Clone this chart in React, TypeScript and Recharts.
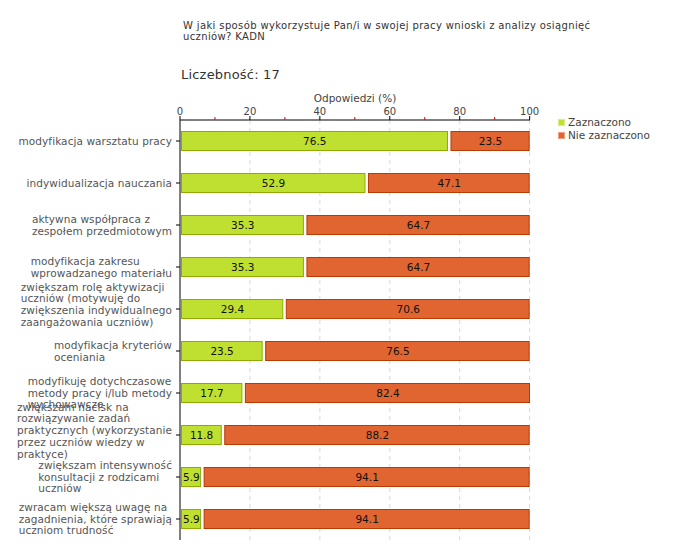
import React from 'react';
import { BarChart, Bar, XAxis, YAxis, CartesianGrid, LabelList } from 'recharts';

const categoryLines: string[][] = [
  ['modyfikacja warsztatu pracy'],
  ['indywidualizacja nauczania'],
  ['aktywna współpraca z', 'zespołem przedmiotowym'],
  ['modyfikacja zakresu', 'wprowadzanego materiału'],
  ['zwiększam rolę aktywizacji', 'uczniów (motywuję do', 'zwiększenia indywidualnego', 'zaangażowania uczniów)'],
  ['modyfikacja kryteriów', 'oceniania'],
  ['modyfikuję dotychczasowe', 'metody pracy i/lub metody', 'wychowawcze'],
  ['zwiększam nacisk na', 'rozwiązywanie zadań', 'praktycznych (wykorzystanie', 'przez uczniów wiedzy w', 'praktyce)'],
  ['zwiększam intensywność', 'konsultacji z rodzicami', 'uczniów'],
  ['zwracam większą uwagę na', 'zagadnienia, które sprawiają', 'uczniom trudność'],
];
const zaznaczono = [76.5, 52.9, 35.3, 35.3, 29.4, 23.5, 17.7, 11.8, 5.9, 5.9];
const nieZaznaczono = [23.5, 47.1, 64.7, 64.7, 70.6, 76.5, 82.4, 88.2, 94.1, 94.1];
const xTicks = [0, 10, 20, 30, 40, 50, 60, 70, 80, 90, 100];
const gridValues = [20, 40, 60, 80, 100];
const seriesNames = ['Zaznaczono', 'Nie zaznaczono'];

const data = categoryLines.map((lines, i) => ({
  name: lines.join(' '),
  lines,
  z: zaznaczono[i],
  n: nieZaznaczono[i],
}));

const FONT = "'DejaVu Sans', Verdana, sans-serif";
const GREEN = '#bfe030';
const GREEN_STROKE = '#8cad00';
const ORANGE = '#e06530';
const ORANGE_STROKE = '#bb3a00';

let measureCtx: CanvasRenderingContext2D | null = null;
function measure(text: string, size: number): number {
  if (!measureCtx) {
    const c = document.createElement('canvas');
    measureCtx = c.getContext('2d');
  }
  if (!measureCtx) return text.length * size * 0.55;
  measureCtx.font = `${size}px ${FONT}`;
  return measureCtx.measureText(text).width + text.length * 0.08;
}

const YTick = (props: any) => {
  const { x, y, payload, index } = props;
  const lines: string[] = data[index]?.lines ?? [String(payload.value)];
  const size = 10.5;
  const lh = 11.7;
  const maxW = Math.max(...lines.map((l) => measure(l, size)));
  const left = x - maxW;
  const shift = lines.length >= 4 ? -4.5 : 0;
  const startY = y - ((lines.length - 1) * lh) / 2 + shift;
  return (
    <g>
      {lines.map((l, i) => (
        <text
          key={i}
          x={left}
          y={startY + i * lh}
          dy="0.35em"
          textAnchor="start"
          fontFamily={FONT}
          fontSize={size}
          letterSpacing={0.08}
          fill="#555"
        >
          {l}
        </text>
      ))}
    </g>
  );
};

const XTick = (props: any) => {
  const { x, y, payload } = props;
  const axisY = y + 6;
  const major = payload.value % 20 === 0;
  return (
    <g>
      {major ? (
        <>
          <line x1={x} x2={x} y1={axisY} y2={axisY - 4} stroke="#000" strokeWidth={1} />
          <text x={x} y={axisY - 5} textAnchor="middle" fontFamily={FONT} fontSize={10} fill="#444">
            {payload.value}
          </text>
        </>
      ) : (
        <line x1={x} x2={x} y1={axisY} y2={axisY - 3} stroke="#e00000" strokeWidth={1} />
      )}
    </g>
  );
};

const GreenShape = (props: any) => {
  const { x, y, width, height } = props;
  return (
    <rect
      x={x + 1.5}
      y={y + 0.5}
      width={Math.max(width - 1.5, 0)}
      height={height - 1}
      fill={GREEN}
      stroke={GREEN_STROKE}
      strokeWidth={1}
    />
  );
};

const OrangeShape = (props: any) => {
  const { x, y, width, height } = props;
  return (
    <rect
      x={x + 3.5}
      y={y + 0.5}
      width={Math.max(width - 4, 0)}
      height={height - 1}
      fill={ORANGE}
      stroke={ORANGE_STROKE}
      strokeWidth={1}
    />
  );
};

const GreenLabel = (props: any) => {
  const { x, y, width, height, value } = props;
  return (
    <text x={x + 1 + width / 2} y={y + height / 2} dy="0.36em" textAnchor="middle" fontFamily={FONT} fontSize={10.5} fill="#111">
      {value}
    </text>
  );
};

const OrangeLabel = (props: any) => {
  const { x, y, width, height, value } = props;
  return (
    <text x={x + 2 + width / 2} y={y + height / 2} dy="0.36em" textAnchor="middle" fontFamily={FONT} fontSize={10.5} fill="#111">
      {value}
    </text>
  );
};

export default function App() {
  return (
    <div style={{ position: 'absolute', left: 0, top: 0, width: 680, height: 560, background: '#fff', fontFamily: FONT }}>
      <div
        style={{
          position: 'absolute',
          left: 183,
          top: 20,
          fontSize: 10,
          lineHeight: '11px',
          color: '#333',
          width: 480,
          letterSpacing: '0.37px',
          whiteSpace: 'nowrap',
        }}
      >
        W jaki sposób wykorzystuje Pan/i w swojej pracy wnioski z analizy osiągnięć
        <br />
        uczniów? KADN
      </div>
      <div style={{ position: 'absolute', left: 181, top: 67, fontSize: 13, color: '#333', letterSpacing: '0.2px' }}>Liczebność: 17</div>
      <div style={{ position: 'absolute', left: 255, width: 200, textAlign: 'center', top: 92, fontSize: 10.5, color: '#444' }}>
        Odpowiedzi (%)
      </div>
      <div style={{ position: 'absolute', left: 558, top: 116, fontSize: 10.5, color: '#444', lineHeight: '13px' }}>
        {seriesNames.map((s, i) => (
          <div key={s} style={{ display: 'flex', alignItems: 'center' }}>
            <span
              style={{
                display: 'inline-block',
                width: 5,
                height: 5,
                background: i === 0 ? GREEN : ORANGE,
                border: `1px solid ${i === 0 ? '#d8ee80' : '#f0a080'}`,
                marginRight: 3,
              }}
            />
            {s}
          </div>
        ))}
      </div>
      <BarChart
        width={680}
        height={560}
        data={data}
        layout="vertical"
        margin={{ top: 100, right: 150, bottom: 20, left: 0 }}
        barSize={20}
        style={{ position: 'absolute', left: 0, top: 0 }}
      >
        <CartesianGrid
          horizontal={false}
          vertical={true}
          stroke="#d8d8d8"
          strokeDasharray="4 4"
          verticalValues={gridValues}
        />
        <XAxis
          type="number"
          orientation="top"
          domain={[0, 100]}
          ticks={xTicks}
          interval={0}
          height={20}
          tickSize={4}
          tickMargin={2}
          tickLine={false}
          axisLine={{ stroke: '#000' }}
          tick={<XTick />}
        />
        <YAxis
          type="category"
          dataKey="name"
          width={180}
          tickSize={4}
          tickMargin={4}
          interval={0}
          axisLine={{ stroke: '#000' }}
          tickLine={{ stroke: '#000' }}
          tick={<YTick />}
        />
        <Bar dataKey="z" stackId="a" isAnimationActive={false} shape={<GreenShape />}>
          <LabelList dataKey="z" content={<GreenLabel />} />
        </Bar>
        <Bar dataKey="n" stackId="a" isAnimationActive={false} shape={<OrangeShape />}>
          <LabelList dataKey="n" content={<OrangeLabel />} />
        </Bar>
      </BarChart>
    </div>
  );
}
